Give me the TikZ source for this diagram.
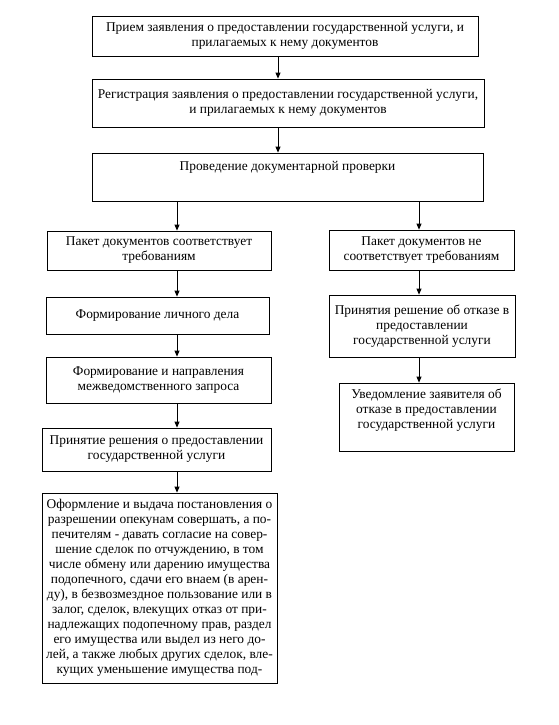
\documentclass[tikz,border=0pt]{standalone}
\usepackage{fontspec}
\setmainfont{Liberation Serif}
\usetikzlibrary{arrows.meta}
\begin{document}
\begin{tikzpicture}[x=1pt,y=-1pt,
  txt/.style={font=\fontsize{13.4}{15}\selectfont},
  box/.style={draw, line width=0.8pt, align=center, inner xsep=1pt, inner ysep=2pt, txt},
  arr/.style={line width=0.8pt, -{Triangle[length=6pt,width=5pt]}}]
\useasboundingbox[fill=white] (0,0) rectangle (558,725);
% main column
\node[box, minimum width=386pt, minimum height=40pt] (b1) at (285,36)
  {Прием заявления о предоставлении государственной услуги, и\\прилагаемых к нему документов};
\node[box, minimum width=392pt, minimum height=48pt] (b2) at (288,103)
  {Регистрация заявления о предоставлении государственной услуги,\\и прилагаемых к нему документов};
\node[box, minimum width=391pt, minimum height=48pt,
  label={[anchor=north, yshift=-5pt, txt]north:Проведение документарной проверки}] (b3) at (287.5,177) {};
% left column
\node[box, minimum width=224pt, minimum height=39pt] (l1) at (159,250.5)
  {Пакет документов соответствует\\требованиям};
\node[box, minimum width=223pt, minimum height=37pt] (l2) at (157.5,315.5)
  {Формирование личного дела};
\node[box, minimum width=225pt, minimum height=46pt] (l3) at (158.5,380)
  {Формирование и направления\\межведомственного запроса};
\node[box, minimum width=229pt, minimum height=43pt] (l4) at (156.5,449.5)
  {Принятие решения о предоставлении\\государственной услуги};
\node[box, minimum width=235pt, minimum height=190pt] (l5) at (159.5,588)
  {Оформление и выдача постановления о\\
   разрешении опекунам совершать, а по-\\
   печителям - давать согласие на совер-\\
   шение сделок по отчуждению, в том\\
   числе обмену или дарению имущества\\
   подопечного, сдачи его внаем (в арен-\\
   ду), в безвозмездное пользование или в\\
   залог, сделок, влекущих отказ от при-\\
   надлежащих подопечному прав, раздел\\
   его имущества или выдел из него до-\\
   лей, а также любых других сделок, вле-\\
   кущих уменьшение имущества под-};
% right column
\node[box, minimum width=185pt, minimum height=40pt] (r1) at (421.5,250)
  {Пакет документов не\\соответствует требованиям};
\node[box, minimum width=186pt, minimum height=62pt] (r2) at (422,326)
  {Принятия решение об отказе в\\предоставлении\\государственной услуги};
\node[box, minimum width=175pt, minimum height=68pt,
  label={[anchor=north, yshift=-3pt, align=center, txt]north:Уведомление заявителя об\\отказе в предоставлении\\государственной услуги}] (r3) at (426.5,417) {};
% arrow x positions
\coordinate (cm) at (278,0);
\coordinate (cl) at (177,0);
\coordinate (cr) at (419,0);
\draw[arr] (cm |- b1.south) -- (cm |- b2.north);
\draw[arr] (cm |- b2.south) -- (cm |- b3.north);
\draw[arr] (cl |- b3.south) -- (cl |- l1.north);
\draw[arr] (cr |- b3.south) -- (cr |- r1.north);
\draw[arr] (cl |- l1.south) -- (cl |- l2.north);
\draw[arr] (cl |- l2.south) -- (cl |- l3.north);
\draw[arr] (cl |- l3.south) -- (cl |- l4.north);
\draw[arr] (cl |- l4.south) -- (cl |- l5.north);
\draw[arr] (cr |- r1.south) -- (cr |- r2.north);
\draw[arr] (cr |- r2.south) -- (cr |- r3.north);
\end{tikzpicture}
\end{document}
